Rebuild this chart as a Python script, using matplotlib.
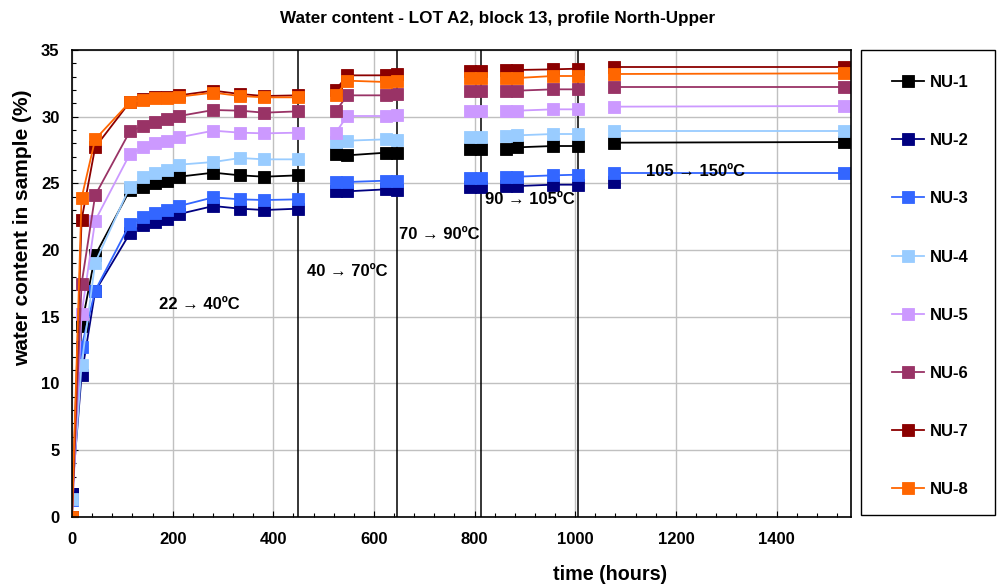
import numpy as np
import matplotlib
matplotlib.use("Agg")
import matplotlib.pyplot as plt
from matplotlib.patches import Rectangle
from matplotlib.ticker import MultipleLocator

plt.rcParams['font.family'] = ['Liberation Sans', 'DejaVu Sans']
plt.rcParams['font.weight'] = 'bold'

# sampling times (hours) and heating stage each sample belongs to
time = np.array([0, 19, 46, 115, 142, 164, 188, 213, 281, 334, 382, 450,
                 524, 547, 624, 645,
                 791, 812,
                 862, 885, 956, 1005,
                 1077, 1534])
stage = np.array([0] * 12 + [1] * 4 + [2] * 2 + [3] * 4 + [4] * 2)

nan = np.nan
nu1 = [1.7, 14.3, 19.6, 24.5, 24.75, 25.0, 25.2, 25.5, 25.8, 25.6, 25.5, 25.6,
       27.2, 27.1, 27.3, 27.25, 27.55, 27.55, 27.6, 27.7, 27.8, 27.8, 28.05, 28.1]
nu2 = [1.7, 10.6, 16.9, 21.25, 21.9, 22.1, 22.3, 22.7, 23.3, 23.1, 23.0, 23.1,
       24.4, 24.4, 24.55, 24.5, 24.7, 24.7, 24.8, 24.8, 24.9, 24.9, 25.1, nan]
nu3 = [1.25, 12.75, 16.95, 21.95, 22.45, 22.75, 23.0, 23.3, 23.95, 23.8, 23.75, 23.8,
       25.1, 25.1, 25.2, 25.2, 25.4, 25.4, 25.45, 25.5, 25.6, 25.65, 25.8, 25.8]
nu4 = [1.3, 11.4, 19.05, 24.75, 25.45, 25.75, 26.0, 26.4, 26.6, 26.9, 26.8, 26.8,
       28.1, 28.2, 28.3, 28.25, 28.45, 28.45, 28.55, 28.6, 28.7, 28.7, 28.9, 28.9]
nu5 = [0.0, 15.2, 22.2, 27.2, 27.7, 28.0, 28.2, 28.45, 28.95, 28.8, 28.75, 28.8,
       28.8, 30.05, 30.05, 30.1, 30.4, 30.4, 30.45, 30.45, 30.55, 30.55, 30.75, 30.8]
nu6 = [0.0, 17.45, 24.1, 28.9, 29.3, 29.6, 29.8, 30.05, 30.5, 30.45, 30.3, 30.4,
       30.4, 31.6, 31.6, 31.7, 31.9, 31.9, 31.95, 31.95, 32.05, 32.05, 32.25, 32.25]
nu7 = [0.0, 22.25, 27.7, 31.1, 31.3, 31.45, 31.45, 31.6, 31.95, 31.7, 31.55, 31.6,
       32.0, 33.1, 33.1, 33.2, 33.4, 33.4, 33.5, 33.5, 33.55, 33.6, 33.7, 33.7]
nu8 = [0.0, 23.9, 28.3, 31.1, 31.25, 31.4, 31.4, 31.5, 31.8, 31.55, 31.45, 31.45,
       31.6, 32.7, 32.6, 32.7, 32.9, 32.9, 32.9, 32.9, 33.05, 33.05, 33.2, 33.25]

labels = ['NU-1', 'NU-2', 'NU-3', 'NU-4', 'NU-5', 'NU-6', 'NU-7', 'NU-8']
series = [nu1, nu2, nu3, nu4, nu5, nu6, nu7, nu8]
colors = ['#000000', '#000080', '#3366FF', '#99CCFF',
          '#CC99FF', '#993366', '#8B0000', '#FF6600']

# end of each heating stage, and the stage annotations
stage_ends = [449, 646, 813, 1006]
stage_text = ['22 \u2192 40\u00baC', '40 \u2192 70\u00baC', '70 \u2192 90\u00baC',
              '90 \u2192 105\u00baC', '105 \u2192 150\u00baC']
text_x = [173, 466, 650, 821, 1140]
text_y = [15.9, 18.4, 21.2, 23.8, 25.9]

W, H = 997, 588
fig = plt.figure(figsize=(W / 100, H / 100), dpi=100)
ax = fig.add_axes([72 / W, 1 - 516.7 / H, (851 - 72) / W, (516.7 - 50) / H])

for vals, lab, col in zip(series, labels, colors):
    vals = np.asarray(vals, dtype=float)
    for s in np.unique(stage):
        m = stage == s
        ax.plot(time[m], vals[m], color=col, lw=1.3, marker='s', ms=8,
                mec=col, mew=0.6, label=lab if s == 0 else None)

for t in stage_ends:
    ax.axvline(t, color='black', lw=1.1, zorder=1.5)

for txt, tx, ty in zip(stage_text, text_x, text_y):
    ax.text(tx, ty, txt, fontsize=12, fontweight='bold', va='center', ha='left')

ax.set_xlim(0, 1548)
ax.set_ylim(0, 35)
ax.xaxis.set_major_locator(MultipleLocator(200))
ax.xaxis.set_minor_locator(MultipleLocator(40))
ax.yaxis.set_major_locator(MultipleLocator(5))
ax.yaxis.set_minor_locator(MultipleLocator(1))
ax.tick_params(which='both', direction='in', labelsize=12)
ax.tick_params(which='major', length=4, width=0.8)
ax.tick_params(which='minor', length=3, width=0.8)
ax.tick_params(axis='x', pad=11)
ax.tick_params(axis='y', pad=9)
for lbl in ax.get_xticklabels() + ax.get_yticklabels():
    lbl.set_fontweight('bold')
ax.grid(True, which='major', color='#c0c0c0', lw=1)
ax.set_axisbelow(True)
for sp in ax.spines.values():
    sp.set_linewidth(1.2)

fig.text(498 / W, 1 - 19 / H, 'Water content - LOT A2, block 13, profile North-Upper',
         ha='center', va='center', fontsize=12.3, fontweight='bold')
fig.text(610 / W, 1 - 574 / H, 'time (hours)', ha='center', va='center',
         fontsize=14.2, fontweight='bold')
fig.text(23 / W, 1 - 228 / H, 'water content in sample (%)', ha='center',
         va='center', rotation=90, fontsize=15, fontweight='bold')

# legend with its own frame to the right of the plot
fig.patches.append(Rectangle((861 / W, 1 - 515 / H), 134 / W, 465 / H,
                             transform=fig.transFigure, fill=False,
                             ec='black', lw=1))
handles, labs = ax.get_legend_handles_labels()
fig.legend(handles, labs, loc='upper left', bbox_to_anchor=(892 / W, 1 - 75 / H),
           frameon=False, borderpad=0, borderaxespad=0, handlelength=1.9,
           handletextpad=0.35, labelspacing=2.59,
           prop=dict(size=12, weight='bold'))

fig.savefig('out.png', dpi=100)
